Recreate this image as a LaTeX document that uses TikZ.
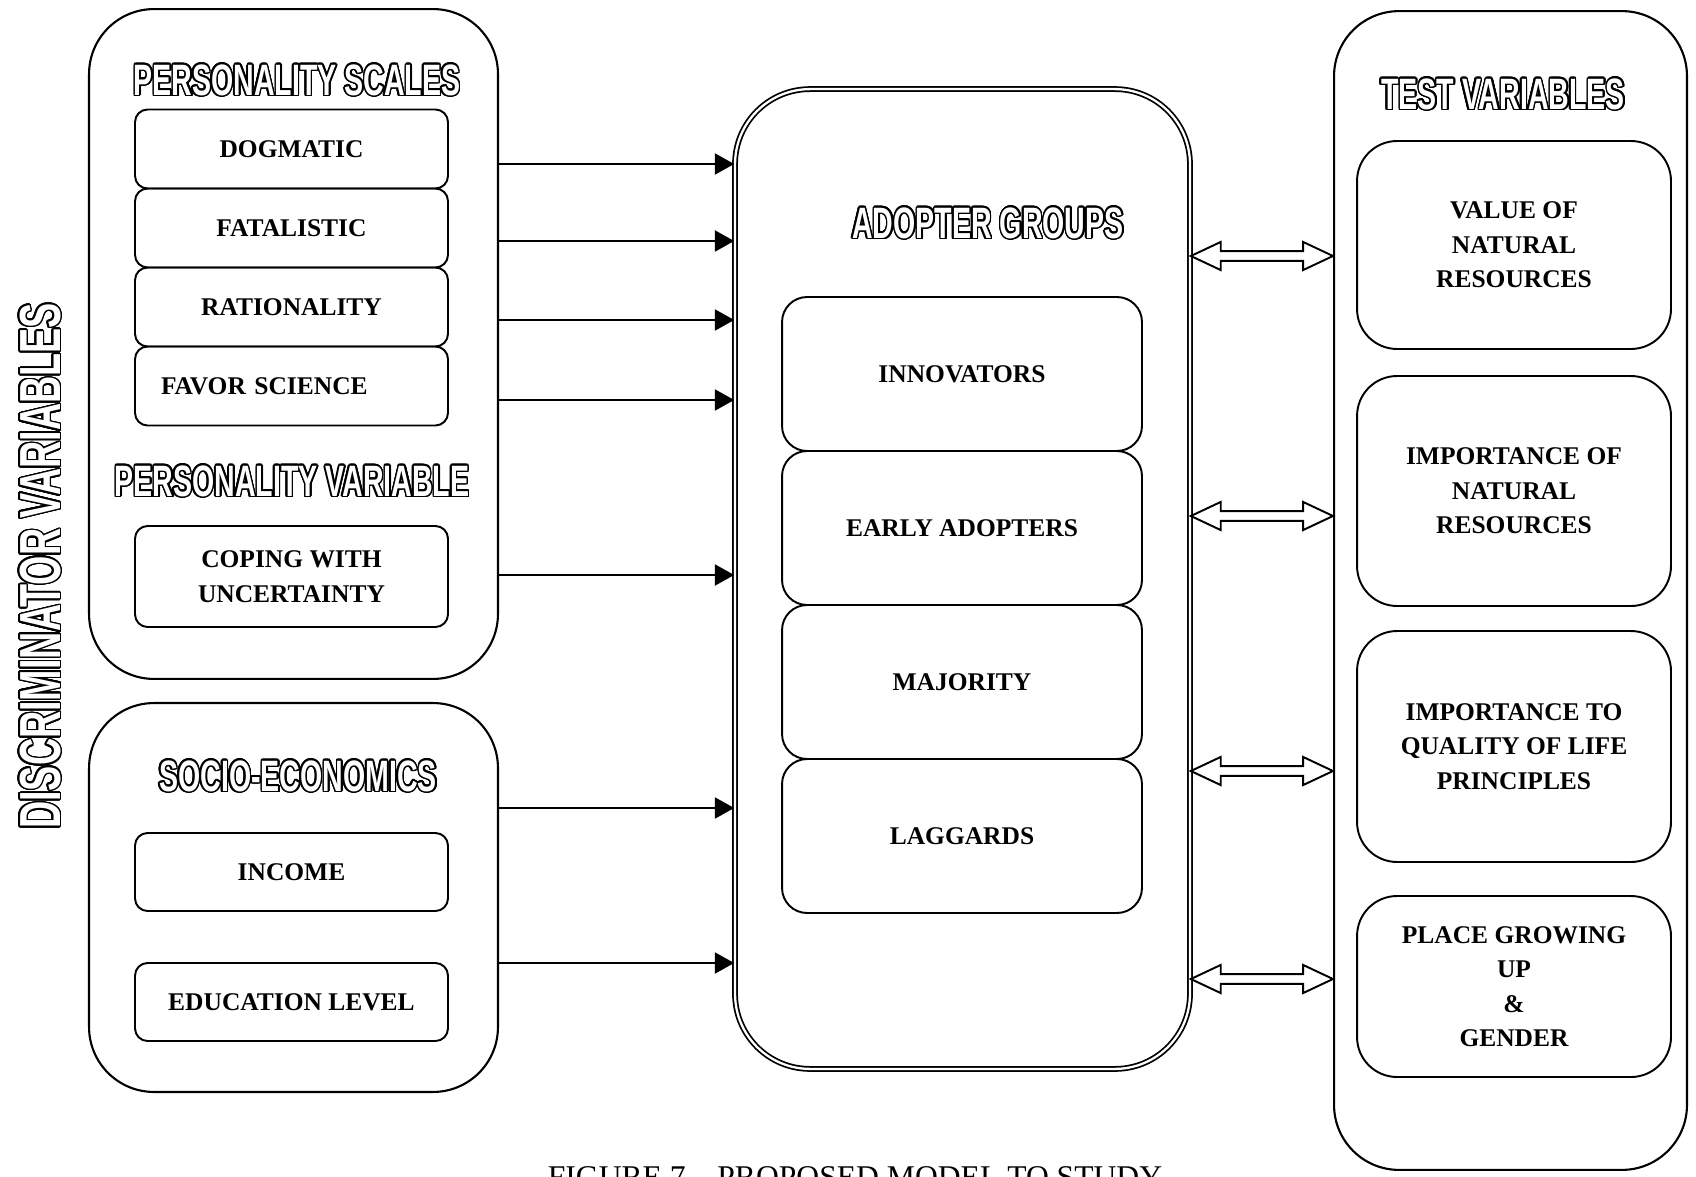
\documentclass[tikz,border=0pt]{standalone}
\usepackage{fontspec}
\usepackage{contour}
\setmainfont{Liberation Serif}
\newfontfamily\outfont{Liberation Sans}[FakeStretch=0.65]
\usetikzlibrary{arrows.meta,calc}

\contourlength{0.9pt}
\contournumber{24}
\newcommand{\hollow}[1]{{\color{white}\contour{black}{#1}}}

\begin{document}
\begin{tikzpicture}[x=0.02cm, y=-0.02cm,
	bigbox/.style={draw, line width=1.2pt, rounded corners=1.3cm},
	midbox/.style={draw, line width=1pt, double, double distance=1.3pt, rounded corners=1.5cm},
	item/.style={draw, line width=1.1pt, rounded corners=0.25cm, align=center,
		font=\fontsize{14.5}{19.6}\selectfont\bfseries},
	title/.style={font=\outfont\bfseries\fontsize{25}{30}\selectfont},
	arr/.style={line width=1.1pt, -{Triangle[length=11pt, width=12pt]}},
	hollowarr/.style={line width=1.1pt, to path={
		let \p1=(\tikztostart), \p2=(\tikztotarget) in
		(\p1) -- (\x1+17pt,\y1+8pt) -- (\x1+17pt,\y1+2.8pt) -- (\x2-17pt,\y1+2.8pt)
		-- (\x2-17pt,\y1+8pt) -- (\p2) -- (\x2-17pt,\y1-8pt) -- (\x2-17pt,\y1-2.8pt)
		-- (\x1+17pt,\y1-2.8pt) -- (\x1+17pt,\y1-8pt) -- cycle}}]
	\useasboundingbox (0,0) rectangle (1696,1176);

	% outer frames
	\node[bigbox, minimum width=8.18cm, minimum height=13.4cm] (pers) at (293.5,344) {};
	\node[bigbox, minimum width=8.18cm, minimum height=7.78cm] (socio) at (293.5,897.5) {};
	\node[midbox, minimum width=9.1cm, minimum height=19.6cm] (grp) at (962.5,579) {};
	\node[bigbox, minimum width=7.06cm, minimum height=23.18cm] (test) at (1510.5,590.5) {};

	\node[title, font=\outfont\bfseries\fontsize{33}{36}\selectfont, rotate=90] (disc) at (41,566) {\hollow{DISCRIMINATOR VARIABLES}};

	% personality
	\node[title] (ps) at (297,81) {\hollow{PERSONALITY SCALES}};
	\node[item, minimum width=6.26cm, minimum height=1.58cm] (dog) at (291.5,149) {DOGMATIC};
	\node[item, minimum width=6.26cm, minimum height=1.58cm] (fat) at (291.5,228) {FATALISTIC};
	\node[item, minimum width=6.26cm, minimum height=1.58cm] (rat) at (291.5,307) {RATIONALITY};
	\node[item, minimum width=6.26cm, minimum height=1.58cm, text width=5.22cm, inner xsep=0.52cm, align=left] (fav) at (291.5,386) {FAVOR SCIENCE};

	\node[title] (pv) at (292,482) {\hollow{PERSONALITY VARIABLE}};
	\node[item, minimum width=6.26cm, minimum height=2.02cm] (cop) at (291.5,576.5) {COPING WITH\\UNCERTAINTY};

	% socio-economics
	\node[title] (se) at (298,777) {\hollow{SOCIO-ECONOMICS}};
	\node[item, minimum width=6.26cm, minimum height=1.56cm] (inc) at (291.5,872) {INCOME};
	\node[item, minimum width=6.26cm, minimum height=1.56cm] (edu) at (291.5,1002) {EDUCATION LEVEL};

	% adopter groups
	\node[title] (ag) at (988,224) {\hollow{ADOPTER GROUPS}};
	\node[item, rounded corners=0.5cm, minimum width=7.2cm, minimum height=3.08cm] (inn) at (962,374) {INNOVATORS};
	\node[item, rounded corners=0.5cm, minimum width=7.2cm, minimum height=3.08cm] (ear) at (962,528) {EARLY ADOPTERS};
	\node[item, rounded corners=0.5cm, minimum width=7.2cm, minimum height=3.08cm] (maj) at (962,682) {MAJORITY};
	\node[item, rounded corners=0.5cm, minimum width=7.2cm, minimum height=3.08cm] (lag) at (962,836) {LAGGARDS};

	% test variables
	\node[title] (tvt) at (1503,95) {\hollow{TEST VARIABLES}};
	\node[item, rounded corners=0.8cm, minimum width=6.28cm, minimum height=4.16cm] (tv1) at (1514,245) {VALUE OF\\NATURAL\\RESOURCES};
	\node[item, rounded corners=0.8cm, minimum width=6.28cm, minimum height=4.6cm] (tv2) at (1514,491) {IMPORTANCE OF\\NATURAL\\RESOURCES};
	\node[item, rounded corners=0.8cm, minimum width=6.28cm, minimum height=4.62cm] (tv3) at (1514,746.5) {IMPORTANCE TO\\QUALITY OF LIFE\\PRINCIPLES};
	\node[item, rounded corners=0.8cm, minimum width=6.28cm, minimum height=3.62cm] (tv4) at (1514,986.5) {PLACE GROWING\\UP\\\&\\GENDER};

	\node[font=\fontsize{18}{20}\selectfont, anchor=base] (cap) at (855,1187) {FIGURE 7 -- PROPOSED MODEL TO STUDY};

	% arrows into the groups
	\draw[arr] (pers.east |- 0,164) -- (grp.west |- 0,164);
	\draw[arr] (pers.east |- 0,241) -- (grp.west |- 0,241);
	\draw[arr] (pers.east |- 0,320) -- (grp.west |- 0,320);
	\draw[arr] (pers.east |- 0,400) -- (grp.west |- 0,400);
	\draw[arr] (pers.east |- 0,575) -- (grp.west |- 0,575);
	\draw[arr] (socio.east |- 0,808) -- (grp.west |- 0,808);
	\draw[arr] (socio.east |- 0,963) -- (grp.west |- 0,963);

	% two-way links
	\draw[hollowarr] (grp.east |- 0,256) to (test.west |- 0,256);
	\draw[hollowarr] (grp.east |- 0,516) to (test.west |- 0,516);
	\draw[hollowarr] (grp.east |- 0,771) to (test.west |- 0,771);
	\draw[hollowarr] (grp.east |- 0,979) to (test.west |- 0,979);
\end{tikzpicture}
\end{document}
